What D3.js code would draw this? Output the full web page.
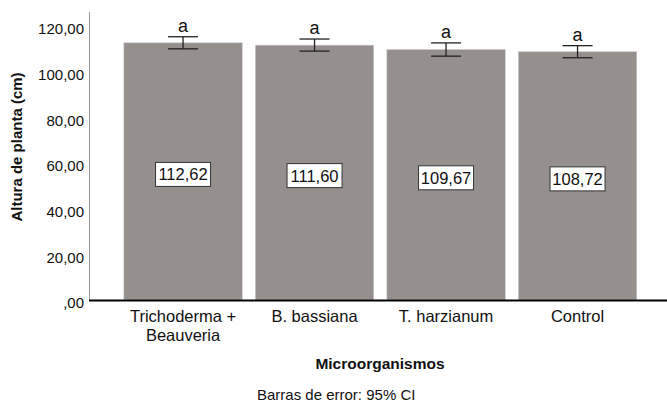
<!DOCTYPE html>
<html><head><meta charset="utf-8">
<script src="https://cdn.jsdelivr.net/npm/d3@7"></script>
<style>body{margin:0;background:#fff}text{font-family:"Liberation Sans",Arial,sans-serif}</style>
</head><body>
<svg id="c" width="667" height="402"></svg>
<script>
const categories = ["Trichoderma +\nBeauveria", "B. bassiana", "T. harzianum", "Control"];
const means = [112.62, 111.60, 109.67, 108.72];
const ciLow = [110.0, 109.0, 106.8, 106.1];
const ciHigh = [115.3, 114.3, 112.6, 111.4];
const letters = ["a", "a", "a", "a"];
const yTicks = [0, 20, 40, 60, 80, 100, 120];

(function () {
const svg = d3.select("#c");
const mLeft = 89, mBottom = 300, mTop = 26;
const y = d3.scaleLinear().domain([0, 120]).range([mBottom, mTop]);
const x = d3.scaleBand().domain(categories).range([117.3, 643.3]).paddingInner(0.1).paddingOuter(0.05);
const fmt = v => v === 0 ? ",00" : d3.format(".2f")(v).replace(".", ",");

// y axis
const ya = svg.append("g").attr("transform", `translate(${mLeft},0)`)
  .call(d3.axisLeft(y).tickValues(yTicks).tickFormat(fmt).tickSize(0).tickPadding(5));
ya.select(".domain").attr("d", `M0.5,12V${mBottom}`).attr("stroke", "#999").attr("stroke-width", 1);
ya.selectAll("text").attr("font-size", 15).attr("fill", "#111").attr("dy", "0.52em");

// bars
svg.selectAll("rect.bar").data(categories).join("rect").attr("class", "bar")
  .attr("x", d => x(d)).attr("width", x.bandwidth())
  .attr("y", (d, i) => y(means[i])).attr("height", (d, i) => mBottom - y(means[i]))
  .attr("fill", "#958f8d").attr("stroke", "#c8c6c5").attr("stroke-width", 0.6);

// x axis line
svg.append("line").attr("x1", mLeft).attr("x2", 667).attr("y1", mBottom + 0.5).attr("y2", mBottom + 0.5)
  .attr("stroke", "#000").attr("stroke-width", 2);

// error bars
const eb = svg.append("g").attr("stroke", "#222").attr("stroke-width", 1.3);
categories.forEach((c, i) => {
  const cx = x(c) + x.bandwidth() / 2;
  eb.append("line").attr("x1", cx).attr("x2", cx).attr("y1", y(ciHigh[i])).attr("y2", y(ciLow[i]));
  eb.append("line").attr("x1", cx - 15).attr("x2", cx + 15).attr("y1", y(ciHigh[i])).attr("y2", y(ciHigh[i]));
  eb.append("line").attr("x1", cx - 15).attr("x2", cx + 15).attr("y1", y(ciLow[i])).attr("y2", y(ciLow[i]));
  svg.append("text").attr("x", cx).attr("y", y(ciHigh[i]) - 5).attr("text-anchor", "middle")
    .attr("font-size", 18).attr("fill", "#111").text(letters[i]);
  const ly = y(means[i] / 2) + 3;
  svg.append("rect").attr("x", cx - 27.5).attr("y", ly - 12).attr("width", 55).attr("height", 24)
    .attr("fill", "#fff").attr("stroke", "#333").attr("stroke-width", 1);
  svg.append("text").attr("x", cx).attr("y", ly + 6).attr("text-anchor", "middle")
    .attr("font-size", 16.5).attr("fill", "#111").text(fmt(means[i]));
  const lines = c.split("\n");
  lines.forEach((t, k) => {
    svg.append("text").attr("x", cx).attr("y", 322 + k * 18.5).attr("text-anchor", "middle")
      .attr("font-size", 16.5).attr("fill", "#111").text(t);
  });
});

svg.append("text").attr("transform", "translate(22,147) rotate(-90)").attr("text-anchor", "middle")
  .attr("font-size", 15).attr("font-weight", "bold").attr("fill", "#111").text("Altura de planta (cm)");
svg.append("text").attr("x", 380).attr("y", 369).attr("text-anchor", "middle")
  .attr("font-size", 15.5).attr("font-weight", "bold").attr("fill", "#111").text("Microorganismos");
svg.append("text").attr("x", 257).attr("y", 400).attr("text-anchor", "start")
  .attr("font-size", 15).attr("fill", "#111").text("Barras de error: 95% CI");
})();
</script>
</body></html>
